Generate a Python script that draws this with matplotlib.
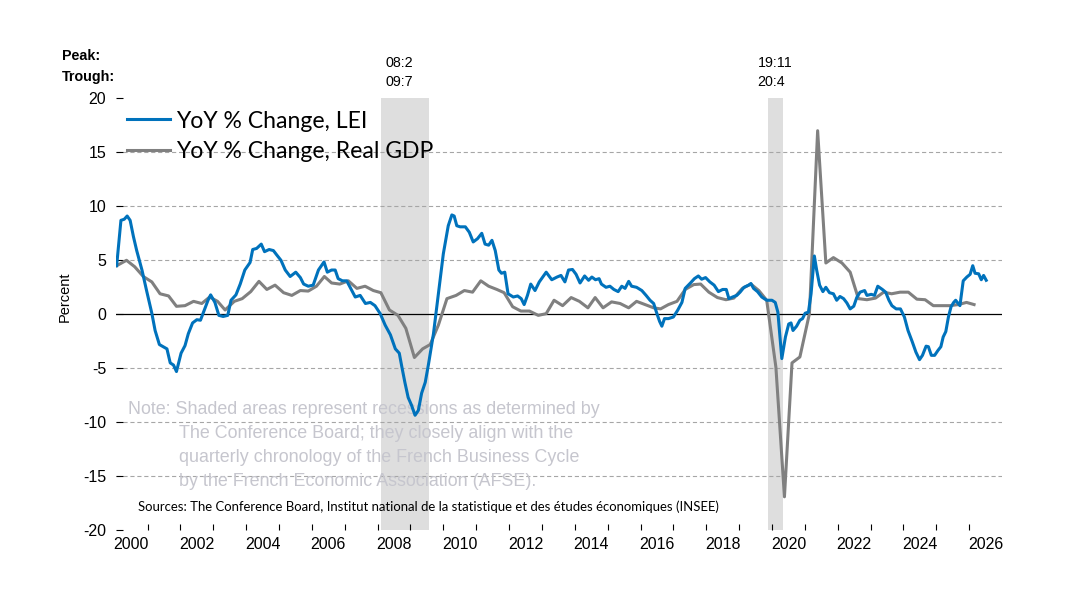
import matplotlib
matplotlib.use("Agg")
import matplotlib.pyplot as plt
from matplotlib.transforms import blended_transform_factory

# France LEI vs real GDP, YoY % change
lei_year = [
    2000.06, 2000.19, 2000.29, 2000.38, 2000.47, 2000.57, 2000.67, 2000.83, 2000.97, 2001.13,
    2001.23, 2001.36, 2001.59, 2001.69, 2001.79, 2001.88, 2002.02, 2002.14, 2002.24, 2002.37,
    2002.50, 2002.61, 2002.74, 2002.84, 2002.92, 2003.05, 2003.17, 2003.30, 2003.44, 2003.54,
    2003.69, 2003.82, 2003.96, 2004.12, 2004.20, 2004.32, 2004.46, 2004.56, 2004.70, 2004.83,
    2004.93, 2005.06, 2005.19, 2005.34, 2005.51, 2005.65, 2005.75, 2005.89, 2006.04, 2006.20,
    2006.37, 2006.47, 2006.60, 2006.71, 2006.80, 2006.93, 2007.06, 2007.18, 2007.32, 2007.47,
    2007.63, 2007.78, 2007.92, 2008.08, 2008.23, 2008.39, 2008.54, 2008.66, 2008.74, 2008.83,
    2008.93, 2009.03, 2009.14, 2009.24, 2009.34, 2009.45, 2009.55, 2009.70, 2009.85, 2010.00,
    2010.15, 2010.26, 2010.33, 2010.41, 2010.51, 2010.67, 2010.79, 2010.91, 2011.04, 2011.17,
    2011.27, 2011.38, 2011.48, 2011.58, 2011.69, 2011.77, 2011.87, 2011.97, 2012.13, 2012.26,
    2012.37, 2012.46, 2012.56, 2012.66, 2012.79, 2012.92, 2013.13, 2013.30, 2013.46, 2013.58,
    2013.70, 2013.81, 2013.93, 2014.04, 2014.16, 2014.30, 2014.42, 2014.52, 2014.63, 2014.74,
    2014.81, 2014.95, 2015.07, 2015.19, 2015.32, 2015.43, 2015.53, 2015.64, 2015.73, 2015.88,
    2016.04, 2016.17, 2016.29, 2016.40, 2016.50, 2016.58, 2016.65, 2016.73, 2016.85, 2017.00,
    2017.13, 2017.26, 2017.36, 2017.52, 2017.64, 2017.76, 2017.86, 2017.98, 2018.11, 2018.24,
    2018.37, 2018.50, 2018.61, 2018.69, 2018.80, 2018.93, 2019.03, 2019.15, 2019.29, 2019.36,
    2019.44, 2019.56, 2019.69, 2019.84, 2020.00, 2020.10, 2020.18, 2020.30, 2020.41, 2020.51,
    2020.58, 2020.64, 2020.75, 2020.85, 2020.93, 2021.01, 2021.11, 2021.19, 2021.29, 2021.36,
    2021.45, 2021.55, 2021.64, 2021.75, 2021.87, 2021.97, 2022.07, 2022.18, 2022.28, 2022.38,
    2022.49, 2022.58, 2022.68, 2022.82, 2022.89, 2023.02, 2023.12, 2023.22, 2023.36, 2023.46,
    2023.56, 2023.65, 2023.78, 2023.91, 2024.03, 2024.14, 2024.27, 2024.38, 2024.49, 2024.58,
    2024.69, 2024.76, 2024.85, 2024.95, 2025.05, 2025.14, 2025.21, 2025.29, 2025.37, 2025.45,
    2025.53, 2025.59, 2025.67, 2025.72, 2025.82, 2025.93, 2026.03, 2026.11, 2026.18, 2026.29,
    2026.37, 2026.44, 2026.52,
]
lei_yoy = [
    4.5, 8.7, 8.8, 9.1, 8.7, 7.2, 5.9, 4.1, 2.2, 0.1,
    -1.5, -2.8, -3.2, -4.5, -4.7, -5.3, -3.6, -2.9, -1.8, -0.8,
    -0.5, -0.55, 0.5, 1.3, 1.8, 1.1, -0.1, -0.2, -0.1, 1.3,
    1.8, 2.8, 4.1, 4.8, 6.0, 6.1, 6.5, 5.8, 6.0, 5.9,
    5.5, 5.0, 4.1, 3.5, 3.9, 3.4, 2.8, 2.6, 2.7, 4.1,
    4.85, 3.9, 4.1, 4.1, 3.3, 3.1, 3.1, 2.4, 1.6, 1.75,
    1.0, 1.1, 0.8, 0.06, -1.0, -1.9, -3.2, -3.6, -4.9, -6.3,
    -7.7, -8.4, -9.35, -8.9, -7.3, -6.3, -4.6, -1.8, 1.9, 5.6,
    8.2, 9.2, 9.1, 8.2, 8.1, 8.1, 7.6, 6.7, 7.0, 7.5,
    6.5, 6.4, 6.85, 5.9, 4.1, 3.8, 3.9, 1.9, 1.6, 1.7,
    1.45, 0.9, 1.75, 2.8, 2.2, 3.0, 3.9, 3.2, 3.45, 3.6,
    3.0, 4.1, 4.15, 3.7, 2.9, 3.55, 3.15, 3.45, 3.2, 3.3,
    2.8, 2.5, 2.6, 2.3, 2.1, 2.6, 2.4, 3.05, 2.6, 2.5,
    2.2, 1.75, 1.3, 1.0, 0.06, -0.65, -1.1, -0.4, -0.4, -0.25,
    0.37, 1.1, 2.4, 2.9, 3.3, 3.55, 3.25, 3.4, 3.0, 2.7,
    2.1, 2.3, 2.3, 1.45, 1.6, 1.75, 2.05, 2.5, 2.7, 2.85,
    2.4, 2.1, 1.6, 1.3, 1.3, 1.1, 0.2, -4.1, -2.1, -0.9,
    -0.8, -1.5, -1.1, -0.55, -0.4, 0.1, 0.2, 1.9, 5.4, 4.1,
    2.7, 2.1, 2.5, 2.0, 1.9, 1.3, 1.65, 1.45, 1.05, 0.5,
    0.75, 1.55, 2.05, 2.2, 1.75, 1.85, 1.75, 2.6, 2.3, 2.05,
    1.3, 0.8, 0.5, 0.5, -0.25, -1.5, -2.55, -3.5, -4.2, -3.8,
    -2.95, -3.0, -3.8, -3.8, -3.35, -3.0, -2.1, -1.6, -0.25, 0.7,
    1.1, 1.3, 1.0, 0.8, 3.1, 3.45, 3.7, 4.5, 3.8, 3.75,
    3.2, 3.6, 3.15,
]

gdp_year = [
    2000.06, 2000.36, 2000.61, 2000.87, 2001.13, 2001.38, 2001.64, 2001.88, 2002.14, 2002.40,
    2002.65, 2002.89, 2003.13, 2003.36, 2003.64, 2003.88, 2004.14, 2004.39, 2004.63, 2004.88,
    2005.14, 2005.39, 2005.65, 2005.89, 2006.14, 2006.38, 2006.60, 2006.85, 2007.11, 2007.37,
    2007.62, 2007.87, 2008.10, 2008.36, 2008.62, 2008.86, 2009.12, 2009.37, 2009.60, 2009.85,
    2010.11, 2010.39, 2010.64, 2010.89, 2011.14, 2011.38, 2011.63, 2011.85, 2012.11, 2012.36,
    2012.62, 2012.89, 2013.13, 2013.37, 2013.63, 2013.89, 2014.14, 2014.40, 2014.62, 2014.86,
    2015.12, 2015.38, 2015.64, 2015.88, 2016.14, 2016.40, 2016.61, 2016.85, 2017.11, 2017.36,
    2017.62, 2017.83, 2018.08, 2018.34, 2018.60, 2018.84, 2019.10, 2019.36, 2019.60, 2019.84,
    2020.12, 2020.38, 2020.61, 2020.85, 2021.14, 2021.39, 2021.64, 2021.87, 2022.13, 2022.38,
    2022.63, 2022.89, 2023.15, 2023.40, 2023.64, 2023.90, 2024.15, 2024.41, 2024.66, 2024.91,
    2025.17, 2025.42, 2025.67, 2025.92, 2026.15,
]
gdp_yoy = [
    4.5, 5.0, 4.4, 3.5, 3.0, 1.9, 1.7, 0.74, 0.8, 1.2,
    1.0, 1.6, 1.2, 0.4, 1.2, 1.45, 2.1, 3.05, 2.3, 2.7,
    2.0, 1.75, 2.2, 2.15, 2.6, 3.5, 2.9, 2.8, 3.1, 2.4,
    2.6, 2.2, 2.0, 0.4, -0.1, -1.3, -4.0, -3.2, -2.8, -1.0,
    1.45, 1.75, 2.2, 2.05, 3.1, 2.6, 2.3, 2.0, 0.7, 0.3,
    0.3, -0.1, 0.06, 1.3, 0.8, 1.55, 1.2, 0.6, 1.55, 0.6,
    1.15, 1.0, 0.6, 1.2, 0.9, 0.6, 0.5, 0.9, 1.2, 2.3,
    2.75, 2.8, 2.05, 1.55, 1.35, 1.5, 2.4, 2.8, 2.2, 1.3,
    -4.9, -16.9, -4.5, -3.95, 0.06, 17.0, 4.75, 5.25, 4.75, 3.9,
    1.45, 1.35, 1.5, 2.05, 1.9, 2.05, 2.05, 1.4, 1.35, 0.8,
    0.8, 0.8, 0.9, 1.1, 0.9,
]

# recessions (peak, trough) as fractional years
rec_start = [2008.10, 2019.87]
rec_end = [2009.56, 2020.33]
peak_labels = ["08:2", "19:11"]
trough_labels = ["09:7", "20:4"]
label_year = [2008.25, 2019.56]  # left edge of the peak/trough labels

year_labels = list(range(2000, 2027, 2))
y_ticks = [20, 15, 10, 5, 0, -5, -10, -15, -20]
grid_levels = [15, 10, 5, -5, -10, -15]

note_lines = [
    "Note: Shaded areas represent recessions as determined by",
    "The Conference Board; they closely align with the",
    "quarterly chronology of the French Business Cycle",
    "by the French Economic Association (AFSE).",
]
source_text = ("Sources: The Conference Board, Institut national de la statistique "
               "et des études économiques (INSEE)")

arial = "Liberation Sans"
calibri = "Lato"
blue = "#0072BC"
grey = "#808080"

plt.rcParams["font.family"] = arial
plt.rcParams["lines.scale_dashes"] = False

W, H = 1080, 604
fig = plt.figure(figsize=(W / 100, H / 100), dpi=100)
ax = fig.add_axes([116 / W, 1 - 530.3 / H, (1002 - 116) / W, (530.3 - 98.3) / H])
ax.set_xlim(2000.04, 2027.0)
ax.set_ylim(-20, 20)
for s in ax.spines.values():
    s.set_visible(False)

# shaded recessions
for a, b in zip(rec_start, rec_end):
    ax.axvspan(a, b, color="#DEDEDE", lw=0, zorder=0)

for g in grid_levels:
    ax.axhline(g, color="#A6A6A6", lw=0.8, dashes=(3, 2), zorder=1)
ax.axhline(0, color="black", lw=0.9, zorder=1)

l1, = ax.plot(lei_year, lei_yoy, color=blue, lw=2.2, zorder=4,
              solid_joinstyle="round", label="YoY % Change, LEI")
l2, = ax.plot(gdp_year, gdp_yoy, color=grey, lw=2.2, zorder=3,
              solid_joinstyle="round", label="YoY % Change, Real GDP")

# axes ticks
ax.set_yticks(y_ticks)
ax.set_yticklabels([str(v) for v in y_ticks], fontsize=11.5)
ax.tick_params(axis="y", direction="in", length=5, width=0.8, pad=7)
ax.set_xticks(range(2001, 2027))
ax.set_xticklabels([])
ax.tick_params(axis="x", which="major", direction="in", length=4.5, width=0.8)
ax.set_xticks([y + 0.5 for y in year_labels], minor=True)
ax.set_xticklabels([str(y) for y in year_labels], minor=True, fontsize=11.5)
ax.tick_params(axis="x", which="minor", length=0, pad=5)

ax.set_ylabel("Percent", fontsize=10.5)
ax.yaxis.set_label_coords(72 / W, 1 - 297 / H, transform=fig.transFigure)

leg = ax.legend(handles=[l1, l2], loc="upper left", frameon=False,
                bbox_to_anchor=(127 / W, 1 - 110.5 / H), bbox_transform=fig.transFigure,
                prop={"family": calibri, "size": 16.6}, handlelength=1.85,
                handletextpad=0.28, labelspacing=0.43, borderpad=0, borderaxespad=0)

# peak / trough labels
fig.text(62 / W, 1 - 56 / H, "Peak:", fontsize=10.3, fontweight="bold", va="center")
fig.text(62 / W, 1 - 77 / H, "Trough:", fontsize=10.3, fontweight="bold", va="center")
top_trans = blended_transform_factory(ax.transData, fig.transFigure)
for lx, pk, tr in zip(label_year, peak_labels, trough_labels):
    ax.text(lx, 1 - 63 / H, pk, transform=top_trans, fontsize=10.3,
            va="center", ha="left", clip_on=False)
    ax.text(lx, 1 - 82 / H, tr, transform=top_trans, fontsize=10.3,
            va="center", ha="left", clip_on=False)

# note and sources
note_x = [128, 179, 179, 179]
for i, line in enumerate(note_lines):
    ax.text(note_x[i] / W, 1 - (409 + 24.3 * i) / H, line, transform=fig.transFigure,
            fontsize=12.9, color="#C6C6CE", va="center", ha="left", zorder=2)
ax.text(138 / W, 1 - 507 / H, source_text, transform=fig.transFigure,
        fontsize=9.45, family=calibri, va="center", ha="left", zorder=2)

fig.savefig("out.png", dpi=100)
